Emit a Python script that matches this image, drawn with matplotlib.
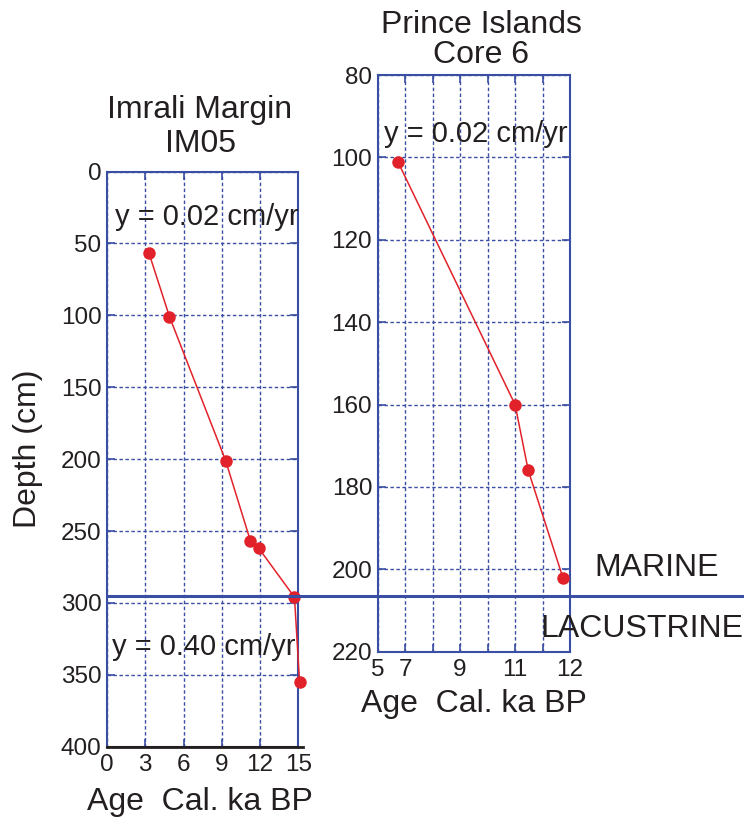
import numpy as np
import matplotlib
matplotlib.use('Agg')
import matplotlib.pyplot as plt
from matplotlib.lines import Line2D

plt.rcParams['font.family'] = ['Liberation Sans', 'DejaVu Sans']

# Imrali Margin IM05
imrali_age = [3.3, 4.9, 9.3, 11.25, 11.9, 14.7, 15.1]
imrali_depth = [57, 101, 201, 257, 262, 296, 355]
imrali_xticks = [0, 3, 6, 9, 12, 15]
imrali_yticks = [0, 50, 100, 150, 200, 250, 300, 350, 400]

# Prince Islands Core 6 (hand-drawn, uneven age axis)
prince_age = [6.46, 11.0, 11.24, 11.87]
prince_depth = [101, 160, 176, 202]
prince_xticks = [5, 7, 9, 11, 12]
prince_xgrid_extra = [8, 10, 11.5]
prince_yticks = [80, 100, 120, 140, 160, 180, 200, 220]

# piecewise age -> grid position for the Prince Islands axis
grid_ages = [5, 7, 8, 9, 10, 11, 11.5, 12]
grid_pos = [0, 1, 2, 3, 4, 5, 6, 7]

W, H = 744, 825
BLUE = '#3a4ea3'
RED = '#e2222a'
DARK = '#231f20'

fig = plt.figure(figsize=(W / 100, H / 100), dpi=100)


def box(x0, y0, x1, y1):
    # pixel box (top-left origin) -> figure rect
    return [x0 / W, 1 - y1 / H, (x1 - x0) / W, (y1 - y0) / H]


def ftext(x, y, s, size, ha='left', **kw):
    fig.text(x / W, 1 - y / H, s, fontsize=size, ha=ha, va='baseline', color=DARK, **kw)


def style_axes(ax):
    for sp in ax.spines.values():
        sp.set_color(BLUE)
        sp.set_linewidth(1.5)
    ax.tick_params(which='both', direction='in', length=6, width=1.2, color=BLUE,
                   top=True, right=True, labelsize=17.5, labelcolor=DARK)
    ax.tick_params(axis='y', pad=4)
    ax.tick_params(axis='x', pad=5)
    ax.tick_params(which='minor', length=6)
    ax.grid(True, which='both', color=BLUE, linestyle=(0, (2.5, 1.8)), linewidth=1.0)
    ax.set_axisbelow(True)


# left panel
ax1 = fig.add_axes(box(107, 171.5, 298.3, 746.7))
ax1.set_xlim(0, 15)
ax1.set_ylim(400, 0)
ax1.set_xticks(imrali_xticks)
ax1.set_yticks(imrali_yticks)
style_axes(ax1)
ax1.spines['bottom'].set_color(DARK)
ax1.axhline(400, xmin=0, xmax=1.025, color=DARK, lw=2, clip_on=False, zorder=5)
ax1.plot(imrali_age, imrali_depth, '-o', color=RED, lw=1.1, ms=9,
         markeredgewidth=0, clip_on=False, zorder=6)

# right panel
ax2 = fig.add_axes(box(377.7, 75, 570, 651.7))
ax2.set_xscale('function', functions=(lambda a: np.interp(a, grid_ages, grid_pos),
                                      lambda p: np.interp(p, grid_pos, grid_ages)))
ax2.set_xlim(5, 12)
ax2.set_ylim(220, 80)
ax2.set_xticks(prince_xticks)
ax2.set_xticks(prince_xgrid_extra, minor=True)
ax2.set_yticks(prince_yticks)
style_axes(ax2)
ax2.plot(prince_age, prince_depth, '-o', color=RED, lw=1.1, ms=9,
         markeredgewidth=0, clip_on=False, zorder=6)

# marine / lacustrine boundary across both panels
fig.add_artist(Line2D([107 / W, 1.0], [1 - 595.7 / H] * 2, color=BLUE, lw=2.2, zorder=4))

# titles
ftext(200, 118.3, 'Imrali Margin', 23, ha='center')
ftext(200, 151.7, 'IM05', 23, ha='center')
ftext(481, 33.3, 'Prince Islands', 23, ha='center')
ftext(481, 63.3, 'Core 6', 23, ha='center')

# rate annotations
ftext(115, 225, 'y = 0.02 cm/yr', 21)
ftext(111.7, 655, 'y = 0.40 cm/yr', 21)
ftext(384, 141.7, 'y = 0.02 cm/yr', 21)

ftext(594, 575.7, 'MARINE', 23)
ftext(540.7, 636.7, 'LACUSTRINE', 23)

# axis labels
ftext(200, 810, 'Age  Cal. ka BP', 23, ha='center')
ftext(474, 711.7, 'Age  Cal. ka BP', 23, ha='center')
fig.text(28 / W, 1 - 449 / H, 'Depth (cm)', fontsize=23, rotation=90,
         ha='center', va='center', color=DARK)

fig.savefig('out.png', dpi=100)
